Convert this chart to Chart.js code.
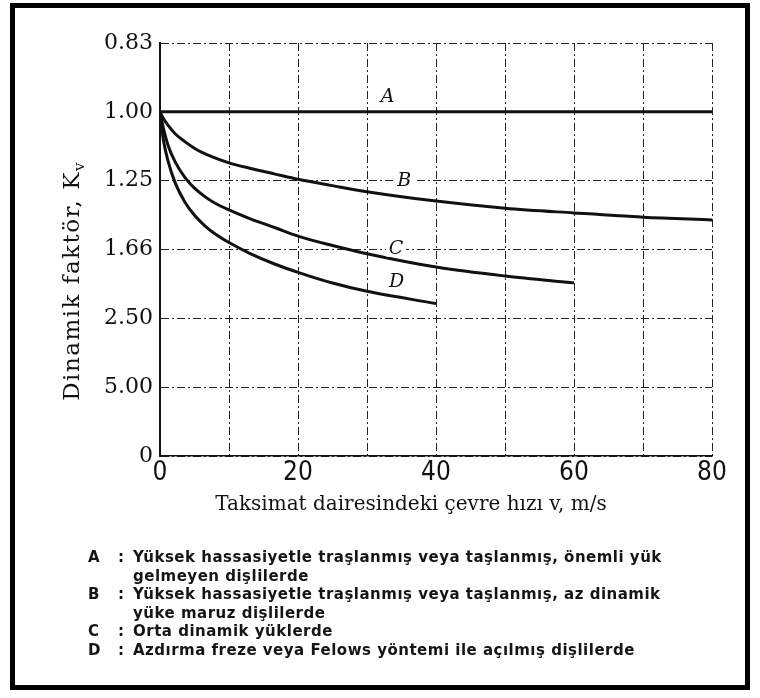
<!DOCTYPE html>
<html>
<head>
<meta charset="utf-8">
<title>Dinamik faktör Kv</title>
<script src="https://cdn.jsdelivr.net/npm/chart.js@4.4.1/dist/chart.umd.min.js"></script>
<style>
  html, body { margin: 0; padding: 0; background: #fff; }
  #wrap { position: relative; width: 760px; height: 698px; }
  #wrap canvas { position: absolute; left: 0; top: 0; }
  #notes {
    position: absolute; left: 88px; top: 548px;
    font: bold 15px "DejaVu Sans", sans-serif; color: #151515;
    line-height: 18.6px; letter-spacing: 0.5px;
  }
  #notes .row { display: flex; }
  #notes .k { width: 30px; }
  #notes .c { width: 15px; }
</style>
</head>
<body>
<div id="wrap">
  <canvas id="kv-chart" width="760" height="698"></canvas>
  <div id="notes"></div>
</div>
<script>
// hız (m/s) ve okunan Kv değerleri
const V_A = [0, 80];
const KV_A = [1.0, 1.0];

const V_B = [0, 0.5, 1.2, 2.2, 3.5, 5.1, 7.5, 10, 13, 16.7, 20, 25, 30, 40, 50, 60, 70, 80];
const KV_B = [1.0, 1.02, 1.042, 1.068, 1.093, 1.12, 1.15, 1.174, 1.196, 1.221, 1.244, 1.273, 1.302, 1.350, 1.389, 1.416, 1.441, 1.458];

const V_C = [0, 0.5, 1.2, 2.2, 3.6, 5, 6.5, 8, 10, 13, 16.7, 20, 25, 30, 40, 50, 60];
const KV_C = [1.0, 1.05, 1.11, 1.17, 1.235, 1.285, 1.327, 1.362, 1.399, 1.45, 1.508, 1.565, 1.635, 1.701, 1.821, 1.912, 1.988];

const V_D = [0, 0.5, 1.2, 2.2, 3.6, 5, 6.5, 8, 10, 13, 16.7, 20, 25, 30, 40];
const KV_D = [1.0, 1.09, 1.17, 1.26, 1.355, 1.43, 1.495, 1.55, 1.612, 1.698, 1.795, 1.874, 1.99, 2.09, 2.257];

// eksen etiketleri (y ekseni 1/Kv ölçeğinde, 0 .. 1.2)
const KV_TICKS = ['0', '5.00', '2.50', '1.66', '1.25', '1.00', '0.83'];
const X_LABELS = [0, 20, 40, 60, 80];

// eğri harfleri
const TAGS = ['A', 'B', 'C', 'D'];
const TAG_V = [33, 35.4, 34.2, 34.3];
const TAG_KV = [0.958, 1.25, 1.66, 1.975];

const NOTE_KEYS = ['A', 'B', 'C', 'D'];
const NOTE_TEXT = [
  ['Yüksek hassasiyetle traşlanmış veya taşlanmış, önemli yük', 'gelmeyen dişlilerde'],
  ['Yüksek hassasiyetle traşlanmış veya taşlanmış, az dinamik', 'yüke maruz dişlilerde'],
  ['Orta dinamik yüklerde'],
  ['Azdırma freze veya Felows yöntemi ile açılmış dişlilerde']
];

const INK = '#111';

function toPoints(v, kv) {
  return v.map((x, i) => ({ x, y: 1 / kv[i] }));
}

function curve(v, kv) {
  return {
    data: toPoints(v, kv),
    showLine: true,
    borderColor: INK,
    borderWidth: 3,
    pointRadius: 0,
    cubicInterpolationMode: 'monotone',
  };
}

const decor = {
  id: 'decor',
  afterDraw(chart) {
    const { ctx, scales: { x, y } } = chart;
    ctx.save();

    // curve letters
    ctx.font = 'italic 19px "DejaVu Serif", serif';
    ctx.textAlign = 'center';
    ctx.textBaseline = 'middle';
    TAGS.forEach((t, i) => {
      const px = x.getPixelForValue(TAG_V[i]);
      const py = y.getPixelForValue(1 / TAG_KV[i]);
      if (t === 'B' || t === 'C') {
        ctx.fillStyle = '#fff';
        ctx.fillRect(px - 10, py - 8, 20, 16);
      }
      ctx.fillStyle = INK;
      ctx.fillText(t, px, py);
    });

    // x title
    ctx.font = '20px "DejaVu Serif", serif';
    ctx.fillText('Taksimat dairesindeki çevre hızı v, m/s', 411, 505);

    // y title with subscript
    ctx.translate(73, 281);
    ctx.rotate(-Math.PI / 2);
    ctx.font = '23px "DejaVu Serif", serif';
    ctx.letterSpacing = '1.5px';
    const main = 'Dinamik faktör, K';
    const w = ctx.measureText(main).width;
    ctx.font = '15px "DejaVu Serif", serif';
    const ws = ctx.measureText('v').width;
    const x0 = -(w + ws) / 2;
    ctx.textAlign = 'left';
    ctx.font = '23px "DejaVu Serif", serif';
    ctx.fillText(main, x0, 0);
    ctx.font = '15px "DejaVu Serif", serif';
    ctx.fillText('v', x0 + w, 7);
    ctx.restore();

    // frame
    ctx.save();
    ctx.strokeStyle = '#000';
    ctx.lineWidth = 5;
    ctx.strokeRect(12.5, 5.5, 735, 682);
    ctx.restore();
  }
};

new Chart(document.getElementById('kv-chart').getContext('2d'), {
  type: 'scatter',
  data: {
    datasets: [
      curve(V_A, KV_A),
      curve(V_B, KV_B),
      curve(V_C, KV_C),
      curve(V_D, KV_D),
    ]
  },
  options: {
    responsive: false,
    animation: false,
    layout: { padding: { left: 0, right: 48, top: 43, bottom: 162 } },
    plugins: { legend: { display: false }, tooltip: { enabled: false } },
    scales: {
      x: {
        type: 'linear', min: 0, max: 80,
        afterFit: s => { s.height = 80; },
        grid: { color: '#222', lineWidth: 1, drawTicks: false },
        border: { color: INK, width: 1.5, dash: [8, 3, 2, 3] },
        ticks: {
          stepSize: 10, autoSkip: false, maxRotation: 0, padding: 2,
          color: INK,
          font: { family: '"Liberation Sans Narrow", "DejaVu Sans Condensed", "Liberation Sans"', size: 26 },
          callback: v => X_LABELS.includes(v) ? String(v) : '',
        }
      },
      y: {
        min: 0, max: 1.2,
        afterFit: s => { s.width = 160; },
        grid: { color: '#222', lineWidth: 1, drawTicks: false },
        border: { color: INK, width: 2, dash: [8, 3, 2, 3] },
        ticks: {
          stepSize: 0.2, padding: 7,
          color: INK,
          font: { family: '"DejaVu Serif"', size: 22 },
          callback: (v, i) => KV_TICKS[i],
        }
      }
    }
  },
  plugins: [decor]
});

// notlar
const notes = document.getElementById('notes');
NOTE_KEYS.forEach((k, i) => {
  const row = document.createElement('div');
  row.className = 'row';
  row.innerHTML = `<span class="k">${k}</span><span class="c">:</span><span class="t">${NOTE_TEXT[i].join('<br>')}</span>`;
  notes.appendChild(row);
});
</script>
</body>
</html>
